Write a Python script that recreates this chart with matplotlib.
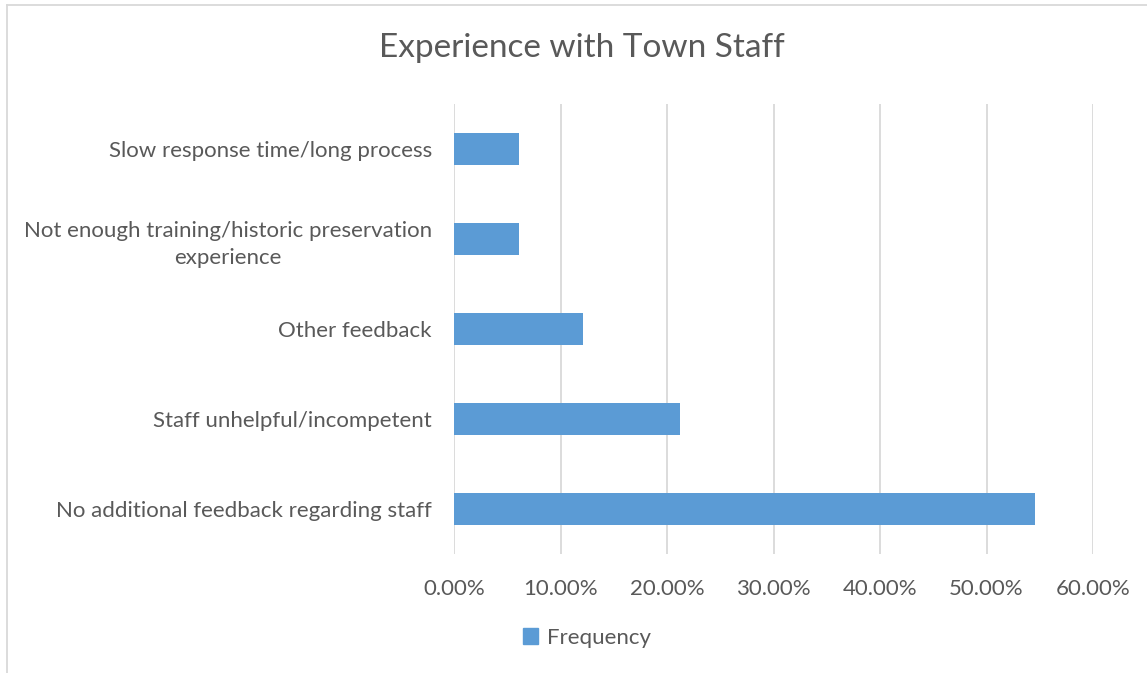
import matplotlib
matplotlib.use("Agg")
from matplotlib import pyplot as plt
from matplotlib.ticker import FuncFormatter
from matplotlib.patches import Patch
from matplotlib.lines import Line2D

# categories from bottom to top
categories = ["No additional feedback regarding staff",
              "Staff unhelpful/incompetent",
              "Other feedback",
              "Not enough training/historic preservation\nexperience",
              "Slow response time/long process"]
frequency = [0.5455, 0.2121, 0.1212, 0.0606, 0.0606]
ticks = [0, 0.1, 0.2, 0.3, 0.4, 0.5, 0.6]

txt = "#595959"
plt.rcParams['font.family'] = ['Lato', 'DejaVu Sans']

fig = plt.figure(figsize=(11.47, 6.73), dpi=100)
ax = fig.add_axes([454/1147, 1-554/673, (1093-454)/1147, 450/673])

ypos = range(len(categories))
ax.barh(ypos, frequency, height=0.35, color="#5B9BD5", zorder=3)
ax.set_xlim(0, 0.6)
ax.set_ylim(-0.5, len(categories)-0.5)
ax.set_xticks(ticks)
ax.xaxis.set_major_formatter(FuncFormatter(lambda v, p: f"{v*100:.2f}%"))
ax.set_yticks(list(ypos))
ax.set_yticklabels(categories, multialignment='center', linespacing=1.45)
ax.tick_params(length=0, labelsize=16, colors=txt)
ax.tick_params(axis='x', pad=18)
ax.tick_params(axis='y', pad=16)
ax.grid(axis='x', color="#D9D9D9", linewidth=1.3, zorder=0)
for s in ax.spines.values():
    s.set_visible(False)

fig.text(582/1147, 1-48/673, "Experience with Town Staff", ha='center', va='center',
         fontsize=24, color=txt)

fig.legend(handles=[Patch(color="#5B9BD5", label="Frequency")],
           loc='center', bbox_to_anchor=(587/1147, 1-638/673), frameon=False,
           fontsize=16, labelcolor=txt, handlelength=0.7, handleheight=0.7,
           handletextpad=0.4)

# chart frame
fig.add_artist(Line2D([7/1147, 7/1147], [0, 1-5/673], color="#D9D9D9", lw=1.3))
fig.add_artist(Line2D([7/1147, 1], [1-5/673, 1-5/673], color="#D9D9D9", lw=1.3))

fig.savefig("out.png", dpi=100)
